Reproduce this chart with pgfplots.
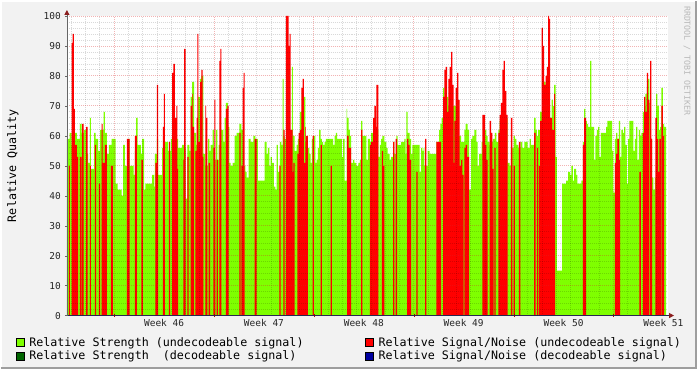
\documentclass[border=0pt]{standalone}
\usepackage{pgfplots}
\pgfplotsset{compat=1.18}
\usepackage{fontspec}
\setmainfont{DejaVu Sans Mono}
\usetikzlibrary{arrows.meta}
\definecolor{bgc}{RGB}{242,242,242}
\definecolor{grn}{RGB}{127,255,0}
\definecolor{rd}{RGB}{255,0,0}
\definecolor{dgrn}{RGB}{0,100,0}
\definecolor{dblue}{RGB}{0,0,160}
\definecolor{arr}{RGB}{140,30,30}
\definecolor{wm}{RGB}{185,185,185}
\definecolor{xax}{RGB}{40,40,80}
\definecolor{mgrid}{RGB}{220,40,40}
\begin{document}
\begin{tikzpicture}
\fill[bgc] (-66pt,-54pt) rectangle (631pt,315pt);
\draw[white, line width=1pt] (-65.5pt,-53.5pt) -- (-65.5pt,314.5pt) -- (630.5pt,314.5pt);
\draw[black!38, line width=2pt] (-66pt,-53pt) -- (630pt,-53pt) -- (630pt,315pt);
\begin{axis}[
  scale only axis, width=602pt, height=300pt,
  xmin=0, xmax=602, ymin=0, ymax=100,
  const plot,
  axis lines*=left,
  axis on top,
  axis background/.style={fill=white},
  x axis line style={draw=xax, line width=0.8pt, shorten >=-6pt, -{Triangle[length=5pt,width=5pt,color=arr]}},
  y axis line style={draw=black!60, line width=0.8pt, shorten >=-6pt, -{Triangle[length=5pt,width=5pt,color=arr]}},
  xtick={47.33,147.33,...,547.33},
  xticklabels={},
  minor xtick={4.47,18.76,33.04,61.62,75.90,90.19,104.47,118.76,133.04,161.62,175.90,190.19,204.47,218.76,233.04,261.62,275.90,290.19,304.47,318.76,333.04,361.62,375.90,390.19,404.47,418.76,433.04,461.62,475.90,490.19,504.47,518.76,533.04,561.62,575.90,590.19},
  extra x ticks={97.33,197.33,...,597.33},
  extra x tick labels={Week 46,Week 47,Week 48,Week 49,Week 50,Week 51},
  extra x tick style={grid=none, major tick length=0pt},
  ytick={0,10,...,100},
  minor y tick num=4,
  grid=both,
  major grid style={draw=mgrid, opacity=0.35, dash pattern=on 1pt off 1pt, line width=0.8pt},
  minor grid style={draw=black, opacity=0.15, dash pattern=on 1pt off 1pt, line width=0.8pt},
  major tick length=3pt, minor tick length=0pt,
  xtick style={draw=red!70!black},
  ytick style={draw=black!60},
  tick align=center,
  tick label style={font=\fontsize{9.5}{11}\selectfont, text=black!85},
  /pgf/number format/assume math mode=true,
  yticklabel style={xshift=-1pt},
  ylabel={Relative Quality},
  ylabel style={at={(axis description cs:-0.0897,0.5)}, anchor=center, font=\fontsize{11.7}{14}\selectfont},
  legend columns=2,
  legend cell align=left,
  legend image code/.code={\draw[#1, draw=black, line width=0.6pt] (0pt,-4pt) rectangle (8pt,4pt);},
  legend style={at={(axis description cs:0,0)}, anchor=north west, xshift=-51.5pt, yshift=-20pt,
    draw=none, fill=none, inner sep=0pt, row sep=0pt,
    font=\fontsize{11.7}{14}\selectfont,
    nodes={inner sep=1.5pt},
    /tikz/every odd column/.append style={column sep=3.5pt},
    /tikz/every even column/.append style={column sep=60pt}},
]
\addplot[fill=grn, draw=none] coordinates {
(0,59) (2.7,61) (4.7,57) (8,61) (10,59) (13,64) (14.7,61) (17.3,62) (20,54) (21.3,51) (23,66) (24,49) (27.3,61) (28.7,59) (31.3,55) (33.3,62) (36.7,68) (38,61) (40,54) (42,57) (44.7,59) (48.7,44) (50.7,42) (54.7,40) (56.3,57) (58,50) (60,36) (61.3,59) (62.7,50) (66.7,47) (68,55) (69.3,66) (70.7,57) (74,54) (75.3,59) (77.3,42) (78.7,44) (85.3,47) (87.3,43) (88,54) (90,59) (91.3,47) (95.3,56) (98,58) (101.3,55) (104,59) (111.3,56) (115.3,57) (118,56) (119,39) (120.7,57) (122.7,55) (124,73) (125.3,78) (127.3,61) (129.3,57) (131.3,73) (133.3,79) (134.7,80) (136.7,54) (138.7,50) (141.3,59) (142.7,55) (144,57) (146,62) (147.3,52) (149.3,62) (150.7,52) (152,57) (154,62) (156.7,58) (158,66) (159.3,71) (161.3,63) (162.7,51) (164,50) (166,51) (168,60) (170,61) (172.7,64) (174.7,62) (176.7,50) (178.7,48) (180,46) (182,59) (184,58) (186.7,60) (188.7,59) (191.3,45) (198,58) (200,54) (201.3,56) (202.7,50) (204,53) (205.3,51) (207.3,43) (208.7,42) (210,57) (211.3,48) (213.3,58) (214.7,57) (216,79) (217,60) (218,59) (225.3,83) (226.3,60) (228,55) (230,57) (231.3,59) (233.3,68) (235.3,75) (236.7,73) (238.7,58)
(241.3,56) (242.7,54) (244,51) (245.3,59) (247.3,60) (248.7,51) (250,52) (251.3,56) (252.7,62) (254,59) (255.3,58) (256.7,57) (258,58) (259.3,59) (266.7,57) (268,60) (269.3,61) (270.7,59) (275.3,53) (276.7,59) (278,45) (280,69) (280.7,66) (282,62) (283.3,60) (284.7,51) (286.7,52) (288,51) (290,50) (292,51) (293.3,52) (294.7,65) (296,60) (300,52) (301.3,59) (303.3,58) (304.7,61) (306.7,62) (312,53) (313.3,57) (314.7,59) (316,60) (318,58) (320,56) (321.3,54) (323.3,52) (324.7,53) (326.7,58) (328,54) (330,60) (331.3,57) (334.7,58) (338,59) (339.3,54) (340,68) (341.3,61) (343.3,59) (344.7,54) (346,57) (353.3,48) (354.7,56) (356,55) (357.3,56) (358,50) (361.3,55) (363.3,54) (370,58) (372.7,62) (374,64) (375.3,66) (376.7,76) (378,72) (380.7,73) (382,70) (391.3,59) (392.7,60) (394.7,58) (398,62) (399.3,64) (401.3,62) (402.7,42) (404.7,59) (406,60) (408,62) (410,58) (411.3,50) (412.7,54) (415.3,58) (418,62) (420,60) (421.3,58) (423.3,57) (424.7,58) (426.7,59) (428.7,61) (430,58) (432,62) (433.3,65) (439.3,66) (441.3,51) (443.3,50) (444.7,56) (447.3,60) (448.7,59) (450,57) (452,56) (454,58) (456,56) (458,58) (461.3,56) (463.3,59) (464.7,57) (468,66) (469.3,62) (470.7,60) (472,62) (474,68) (476.7,78) (479.3,72) (480.7,70)
(484,66) (485.3,72) (486.7,70) (488,77) (489.3,53) (490.7,15) (496,44) (500,45) (502,48) (504,47) (505.3,50) (506.7,45) (508,49) (510,47) (511.3,44) (515.3,45) (516.7,58) (518,69) (519.3,65) (520.7,64) (522,63) (524,85) (525.3,63) (528,52) (529.3,60) (530.7,62) (532,63) (533.3,53) (534.7,61) (540,63) (541.3,65) (546,55) (547.3,41) (548.7,59) (550,61) (551.3,59) (552.7,65) (554,53) (555.3,62) (556.7,61) (558,63) (559.3,57) (560.7,44) (562,59) (563.3,65) (567.3,55) (568.7,59) (570,63) (571.3,52) (572.7,62) (574,60) (575.3,61) (576.7,68) (578,70) (579.3,74) (580.7,76) (582,79) (583.3,71) (584.7,59) (586,46) (587.3,42) (588.7,46) (590,74) (591.3,70) (592.7,62) (594,63) (595.3,76) (596.7,64) (598,63) (600,63)
} \closedcycle;
\addlegendentry{Relative Strength (undecodeable signal)}
\addplot[fill=rd, draw=none] coordinates {
(0,0) (2,50) (3,0) (4.7,91) (5.7,94) (7,69) (8,57) (10,53) (11.3,0) (13,53) (14.7,0) (15.3,64) (16.7,0) (19.3,63) (20.7,0) (23,50) (24,0) (28,57) (29.3,0) (32,44) (33.3,0) (34.7,64) (35.7,51) (38,57) (40,0) (44,50) (46,0) (60,59) (62.7,0) (68,60) (70,0) (74.7,52) (76,0) (88.7,51) (90,77) (91.3,0) (96,63) (97,74) (98,0) (102,58) (103.3,0) (105.3,81) (106.7,84) (108,66) (109.7,70) (110.7,49) (111.3,0) (116.7,52) (117.3,89) (119,0) (120.7,53) (122,0) (124,70) (125.3,74) (126,63) (127.3,0) (128.7,55) (130,66) (130.7,94) (131.7,58) (133.3,78) (134.7,82) (136,53) (136.7,0) (138.7,70) (139.3,66) (140.7,0) (142,51) (143.3,0) (146.7,56) (147.7,72) (148.7,0) (150,52) (151.3,0) (152.7,85) (153.7,89) (154.7,0) (159.3,69) (160.7,70) (162,0) (172.7,61) (174,0) (174.7,50) (176,76) (177,81) (178,0) (188,59) (190,0) (212.7,50) (214,0) (216.7,62) (218,0) (219.3,100) (222,90) (223,94) (224,62) (226,48) (226.7,51) (228,0) (230.7,54) (232,61) (233.3,62) (234.7,76) (236,79) (237.3,51) (238.7,63) (239.3,60) (241.3,0)
(246,60) (247.3,0) (254,57) (255.3,0) (264,50) (265.3,0) (280.7,60) (282,56) (284.7,0) (294.7,62) (296,0) (303.3,57) (304.7,58) (306.7,66) (308,70) (309.3,63) (310,77) (312,0) (315.3,55) (316.7,50) (318,0) (326.7,58) (328,0) (329.3,59) (330.7,0) (340.7,59) (342,57) (343.3,52) (344.7,0) (350,48) (351.3,0) (358.7,59) (360,0) (370,58) (374.7,0) (376.7,73) (378,82) (379.3,83) (380.7,68) (382,79) (383.3,83) (384.7,88) (386,77) (387.3,51) (388,65) (389.3,76) (390.7,81) (392,72) (393.3,50) (394.7,52) (396,47) (397.3,0) (398,56) (399.3,57) (400.7,53) (402.7,0) (416,67) (418.7,57) (420,52) (421.3,0) (423.3,65) (424.7,61) (426,49) (427.3,0) (428,56) (429.3,0) (432,61) (433.3,67) (434.7,71) (436,82) (437.3,85) (438.7,75) (440,67) (441.3,0) (444.7,66) (446,0) (447.3,50) (448.7,0) (452.7,58) (454,0) (468,61) (469.3,0) (470.7,56) (472,0) (472.7,50) (474,65) (475.3,96) (476.7,90) (478,77) (479.3,80) (480.7,83) (482,100) (483,99) (484,66) (486,62) (488,74) (489,0)
(516.7,57) (518,66) (520,0) (548.7,51) (550,54) (551.3,59) (552.7,52) (554,0) (573.3,48) (574.7,0) (576.7,61) (578,73) (579.3,68) (580.7,81) (582,72) (583.3,0) (584,85) (585.3,59) (586,0) (589.3,66) (590.7,59) (592,48) (593.3,59) (594.7,0) (595.3,70) (596.7,60) (598,0) (600,0)
} \closedcycle;
\addlegendentry{Relative Signal/Noise (undecodeable signal)}
\addlegendimage{fill=dgrn}
\addlegendentry{Relative Strength~~(decodeable signal)}
\addlegendimage{fill=dblue}
\addlegendentry{Relative Signal/Noise (decodeable signal)}
\end{axis}
\node[rotate=-90, font=\fontsize{8.3}{10}\selectfont, text=wm, inner sep=0pt] at (621pt,255pt) {RRDTOOL / TOBI OETIKER};
\end{tikzpicture}
\end{document}
